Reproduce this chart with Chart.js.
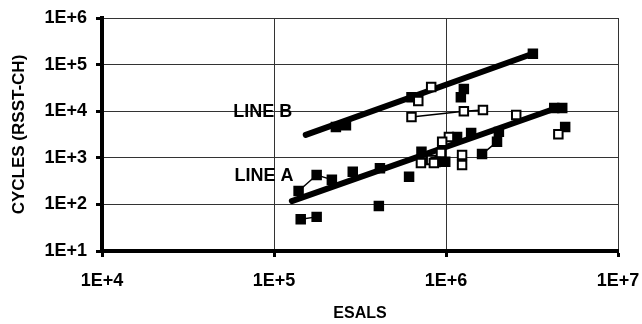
<!DOCTYPE html>
<html>
<head>
<meta charset="utf-8">
<script src="https://cdn.jsdelivr.net/npm/chart.js@4"></script>
<style>
  html, body { margin: 0; padding: 0; background: #fff; }
</style>
</head>
<body>
<canvas id="myChart" width="642" height="324"></canvas>
<script>
// axis ticks (decades)
const esalTicks = [1e4, 1e5, 1e6, 1e7];
const cycleTicks = [1e1, 1e2, 1e3, 1e4, 1e5, 1e6];

// fitted lines
const lineAEsals = [1.27e5, 4.4e6];
const lineACycles = [118, 1.17e4];
const lineBEsals = [1.53e5, 3.1e6];
const lineBCycles = [3.1e3, 1.65e5];

// solid markers, not joined
const solidEsals = [2.29e5, 2.62e5, 3.2e6, 6.3e5, 1.27e6, 1.22e6, 4.26e6, 4.74e6, 4.93e6,
  1.40e6, 1.16e6, 7.2e5, 9.9e5, 6.1e5, 4.07e5, 2.87e5, 4.13e5];
const solidCycles = [4.6e3, 5.0e3, 1.7e5, 2.0e4, 3.0e4, 2.0e4, 1.17e4, 1.17e4, 4.6e3,
  3.4e3, 2.8e3, 1.35e3, 820, 390, 92, 500, 600];

// open markers, not joined
const openEsals = [6.9e5, 8.2e5, 2.56e6, 4.5e6, 1.04e6, 9.5e5, 9.35e5, 8.2e5, 8.7e5,
  7.15e5, 8.5e5, 1.24e6, 1.24e6];
const openCycles = [1.66e4, 3.3e4, 8.3e3, 3.2e3, 2.8e3, 2.2e3, 1.27e3, 900, 810,
  770, 770, 1.15e3, 700];

// joined series
const openJoinEsals = [6.3e5, 1.27e6, 1.64e6];
const openJoinCycles = [7.5e3, 1.0e4, 1.06e4];
const solidJoin1Esals = [1.39e5, 1.77e5, 2.17e5];
const solidJoin1Cycles = [194, 428, 340];
const solidJoin2Esals = [1.43e5, 1.77e5];
const solidJoin2Cycles = [48, 54];
const mixJoinEsals = [1.62e6, 1.98e6, 2.03e6];
const mixJoinCycles = [1.2e3, 2.2e3, 3.6e3];

// in-plot labels
const lineLabels = ['LINE B', 'LINE A'];
const lineLabelEsals = [5.8e4, 5.9e4];
const lineLabelCycles = [9.6e3, 410];

const pts = (xs, ys) => xs.map((x, i) => ({x: x, y: ys[i]}));
const family = 'Liberation Sans, Arial, sans-serif';
const tickFont = {family: family, size: 18, weight: 'bold'};
const titleFont = {family: family, size: 16, weight: 'bold'};

function fatLine(xs, ys) {
  return {data: pts(xs, ys), showLine: true, borderColor: '#000', borderWidth: 6,
    pointRadius: 0, borderCapStyle: 'round', order: 3};
}
function markers(xs, ys, filled, joined) {
  return {data: pts(xs, ys), showLine: joined, borderColor: '#000', borderWidth: 1.5,
    pointStyle: 'rect', pointRadius: 6, pointBorderWidth: 2, pointBorderColor: '#000',
    pointBackgroundColor: filled ? '#000' : '#fff', order: filled ? 1 : 0};
}

const config = {
  type: 'scatter',
  data: {
    datasets: [
      fatLine(lineAEsals, lineACycles),
      fatLine(lineBEsals, lineBCycles),
      markers(solidEsals, solidCycles, true, false),
      markers(openEsals, openCycles, false, false),
      markers(openJoinEsals, openJoinCycles, false, true),
      markers(solidJoin1Esals, solidJoin1Cycles, true, true),
      markers(solidJoin2Esals, solidJoin2Cycles, true, true),
      markers(mixJoinEsals, mixJoinCycles, true, true)
    ]
  },
  options: {
    responsive: false,
    animation: false,
    layout: {padding: {left: 0, right: 24, top: 18, bottom: 0}},
    plugins: {legend: {display: false}, tooltip: {enabled: false}},
    scales: {
      x: {
        type: 'logarithmic', min: 1e4, max: 1e7, position: 'bottom',
        afterBuildTicks: s => { s.ticks = esalTicks.map(v => ({value: v})); },
        afterFit: s => { s.height = 73; s.paddingRight = 0; s.paddingLeft = 0; },
        grid: {color: '#333', lineWidth: 1, tickLength: 6, tickWidth: 3, tickColor: '#000'},
        border: {color: '#000', width: 4},
        ticks: {font: tickFont, color: '#000', padding: 13, maxRotation: 0, autoSkip: false,
          callback: v => '1E+' + Math.round(Math.log10(v))},
        title: {display: true, text: 'ESALS', font: titleFont, color: '#000', padding: {top: 0, bottom: 1}}
      },
      y: {
        type: 'logarithmic', min: 1e1, max: 1e6,
        afterBuildTicks: s => { s.ticks = cycleTicks.map(v => ({value: v})); },
        afterFit: s => { s.width = 102; s.paddingTop = 0; s.paddingBottom = 0; },
        grid: {color: '#333', lineWidth: 1, tickLength: 6, tickWidth: 3, tickColor: '#000'},
        border: {color: '#000', width: 4},
        ticks: {font: tickFont, color: '#000', padding: 9, autoSkip: false,
          callback: v => '1E+' + Math.round(Math.log10(v))},
        title: {display: true, text: 'CYCLES (RSST-CH)', font: {family: family, size: 17, weight: 'bold'},
          color: '#000', padding: {top: 9, bottom: 0}}
      }
    }
  },
  plugins: [{
    // line labels sit in the plot
    id: 'lineLabels',
    afterDatasetsDraw(chart) {
      const ctx = chart.ctx;
      const xs = chart.scales.x, ys = chart.scales.y;
      ctx.save();
      ctx.font = 'bold 18px ' + family;
      ctx.fillStyle = '#000';
      ctx.textBaseline = 'middle';
      lineLabels.forEach((t, i) => {
        ctx.fillText(t, xs.getPixelForValue(lineLabelEsals[i]), ys.getPixelForValue(lineLabelCycles[i]));
      });
      ctx.restore();
    }
  }]
};

const myChart = new Chart(document.getElementById('myChart'), config);
</script>
</body>
</html>
